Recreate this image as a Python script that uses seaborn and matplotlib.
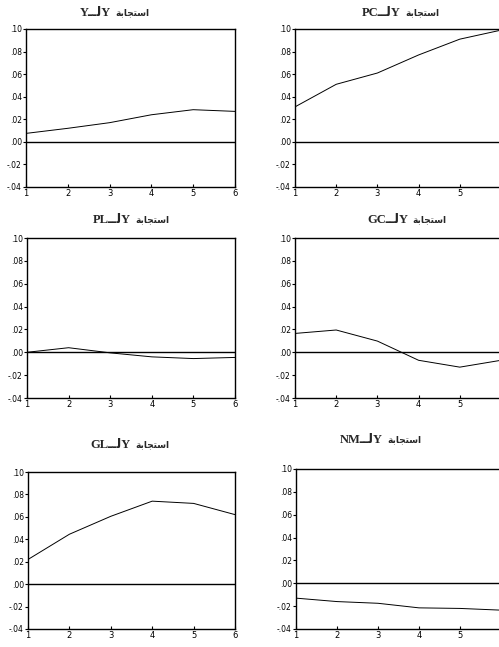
import matplotlib
matplotlib.use("Agg")
import matplotlib.pyplot as plt
import numpy as np
import pandas as pd
import seaborn as sns

# ---------------- data ----------------
periods = [1, 2, 3, 4, 5, 6]
shock_vars = ["Y", "PC", "PL", "GC", "GL", "NM"]
resp_to_Y = [0.0075, 0.012, 0.017, 0.024, 0.0285, 0.027]
resp_to_PC = [0.031, 0.051, 0.061, 0.077, 0.091, 0.099]
resp_to_PL = [0.0, 0.004, -0.0005, -0.004, -0.0055, -0.0045]
resp_to_GC = [0.0165, 0.0195, 0.0098, -0.007, -0.013, -0.007]
resp_to_GL = [0.022, 0.0445, 0.0605, 0.074, 0.072, 0.062]
resp_to_NM = [-0.013, -0.016, -0.0175, -0.0215, -0.022, -0.0235]
responses = [resp_to_Y, resp_to_PC, resp_to_PL, resp_to_GC, resp_to_GL, resp_to_NM]
y_ticks = [-0.04, -0.02, 0.00, 0.02, 0.04, 0.06, 0.08, 0.10]
y_tick_labels = ["-.04", "-.02", ".00", ".02", ".04", ".06", ".08", ".10"]
x_tick_labels = ["1", "2", "3", "4", "5", "6"]
# right-hand panels are cut at the picture edge: their last label is not visible
x_tick_labels_cut = ["1", "2", "3", "4", "5", ""]
# "استجابة Y لـ X" written in shaped presentation forms (visual order)
word_response = "\uFE94\uFE91\uFE8E\uFEA0\uFE98\uFEB3\uFE8D"
lam_connector = "\u0640\u0640\uFEDF"

sns.set_theme(style="white")
plt.rcParams['font.family'] = ['DejaVu Sans']

W, H = 499, 647
fig = plt.figure(figsize=(W / 100, H / 100), dpi=100)
fig.patch.set_facecolor("white")

# pixel boxes (x0, y0, x1, y1) from top-left
boxes = [
    (26, 29, 235, 187), (295, 29, 501, 187),
    (27, 238, 235, 398), (295, 238, 501, 398),
    (28, 472, 235, 629), (296, 469, 501, 629),
]
# title: split x (boundary between latin and arabic parts), y centre
title_pos = [(112, 13), (402, 13), (132, 220), (409, 220), (132, 445), (384, 440)]

for i, (var, vals, (x0, y0, x1, y1), (tx, ty)) in enumerate(
        zip(shock_vars, responses, boxes, title_pos)):
    ax = fig.add_axes([x0 / W, 1 - y1 / H, (x1 - x0) / W, (y1 - y0) / H])
    df = pd.DataFrame({"period": periods, "response": vals})
    sns.lineplot(data=df, x="period", y="response", ax=ax, color="black", linewidth=0.7)
    ax.axhline(0, color="black", linewidth=1.0)
    ax.set_xlim(1, 6)
    ax.set_ylim(-0.04, 0.10)
    ax.set_yticks(y_ticks)
    ax.set_yticklabels(y_tick_labels)
    ax.set_xticks(periods)
    ax.set_xticklabels(x_tick_labels if i % 2 == 0 else x_tick_labels_cut)
    ax.set_xlabel("")
    ax.set_ylabel("")
    ax.tick_params(axis="y", direction="out", length=2.5, width=0.8, pad=0.5,
                   labelsize=5.5, colors="black", left=True)
    ax.tick_params(axis="x", direction="in", length=2.5, width=0.8, pad=1.5,
                   labelsize=6, colors="black", bottom=True)
    for sp in ax.spines.values():
        sp.set_color("black")
        sp.set_linewidth(1.0)
    ax.grid(False)
    fig.text((tx - 1) / W, 1 - ty / H, f"{var}{lam_connector}Y",
             ha="right", va="center", fontsize=9, fontweight="bold",
             family=["Liberation Serif", "DejaVu Sans"])
    fig.text((tx + 3) / W, 1 - ty / H, word_response,
             ha="left", va="center", fontsize=6.5, fontweight="bold",
             family=["DejaVu Sans"])

fig.savefig("out.png", dpi=100, facecolor="white")
